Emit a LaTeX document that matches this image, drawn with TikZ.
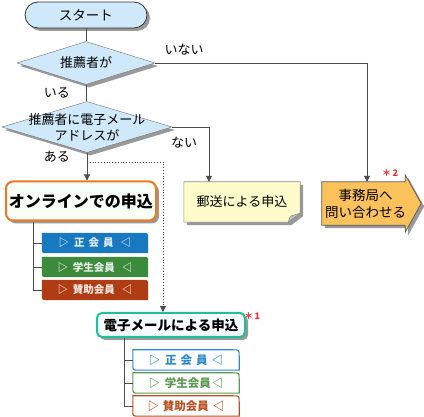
\documentclass[tikz,border=0pt]{standalone}
\usepackage{fontspec}
\setmainfont{Noto Sans CJK JP}
\usetikzlibrary{shapes.geometric,shadows,arrows.meta,backgrounds}
\definecolor{lb}{HTML}{CFE9FA}
\definecolor{orng}{HTML}{F07820}
\definecolor{teal2}{HTML}{20BE9A}
\definecolor{cblue}{HTML}{1878C0}
\definecolor{cgreen}{HTML}{3C8A3C}
\definecolor{cred}{HTML}{B03C14}
\definecolor{eblue}{HTML}{2A8AD0}
\definecolor{egreen}{HTML}{5A9A50}
\definecolor{ered}{HTML}{B85020}
\definecolor{yel}{HTML}{FFFCCC}
\definecolor{jimuf}{HTML}{FBC15A}
\definecolor{star}{HTML}{F03030}
\newcommand\tabpath[2]{%
 \path[#2] (#1.north west) -- ([xshift=-6pt]#1.north east) .. controls (#1.north east) .. ([yshift=-6pt]#1.north east) -- (#1.south east) -- ([xshift=6pt]#1.south west) .. controls (#1.south west) .. ([yshift=6pt]#1.south west) -- cycle;}
\begin{document}
\begin{tikzpicture}[x=1pt,y=-1pt,font=\fontsize{13}{15}\selectfont,
 line/.style={draw=black!70,line width=0.8pt},
 arr/.style={line,-{Triangle[length=6pt,width=6pt]}},
 shad/.style={drop shadow={shadow xshift=3pt,shadow yshift=-3pt,fill=black!40,opacity=1}},
 dia/.style={diamond,draw=black!55,fill=lb,inner sep=0pt,shad},
 sub/.style={minimum width=106pt,minimum height=20pt,inner sep=0pt,font=\bfseries\fontsize{10.5}{11}\selectfont},
 esub/.style={minimum width=106pt,minimum height=20pt,inner sep=0pt,font=\bfseries\fontsize{11.5}{12}\selectfont},
 lbl/.style={font=\fontsize{13}{15}\selectfont,inner sep=0pt}]
\useasboundingbox (0,0) rectangle (424,417);
% start
\node[draw=black!80,line width=0.8pt,fill=lb,rounded corners=13pt,minimum width=122pt,minimum height=26pt,inner sep=0pt,shad,font=\fontsize{13.5}{15}\selectfont] (start) at (86,15) {スタート};
% decisions
\node[dia,minimum width=138pt,minimum height=43pt] (d1) at (86,63) {};
\node[lbl] (d1t) at (d1) {推薦者が};
\node[dia,minimum width=170pt,minimum height=51pt] (d2) at (87,127) {};
\node[lbl,align=center,font=\fontsize{13}{16}\selectfont] (d2t) at (d2) {推薦者に電子メール\\アドレスが};
% labels
\node[lbl] (lno1) at (184,50) {いない};
\node[lbl] (lyes1) at (57,93) {いる};
\node[lbl] (lno2) at (184,143) {ない};
\node[lbl] (lyes2) at (57,157) {ある};
% online
\node[draw=orng,line width=2pt,fill=green!3!white,rounded corners=7pt,minimum width=150pt,minimum height=39pt,inner sep=0pt,shad,font=\bfseries\fontsize{16}{18}\selectfont] (online) at (81,201) {オンラインでの申込};
\node[sub,text=cblue!12!white] (b1) at (95,243) {▷\hspace{5pt}正\hspace{4pt}会\hspace{4pt}員\hspace{7pt}◁};
\node[sub,text=cgreen!12!white] (b2) at (95,267) {▷\hspace{5pt}学生会員\hspace{7pt}◁};
\node[sub,text=cred!12!white] (b3) at (95,290) {▷\hspace{5pt}賛助会員\hspace{7pt}◁};
% email
\node[draw=teal2,line width=2pt,fill=teal2!4!white,rounded corners=5pt,minimum width=148pt,minimum height=24pt,inner sep=0pt,shad,font=\bfseries\fontsize{13.5}{15}\selectfont] (email) at (171,325) {電子メールによる申込};
\node[font=\bfseries\fontsize{9}{10}\selectfont,text=star,inner sep=0pt] (s1) at (252,316) {＊\,1};
\node[esub,text=eblue] (e1) at (186,360) {▷\hspace{5pt}正\hspace{4pt}会\hspace{4pt}員\hspace{4pt}◁};
\node[esub,text=egreen] (e2) at (186,383) {▷\hspace{5pt}学生会員\hspace{1pt}◁};
\node[esub,text=ered] (e3) at (186,406) {▷\hspace{4pt}賛助会員\hspace{4pt}◁};
% yubin
\node[minimum width=116pt,minimum height=40pt,inner sep=0pt] (yubin) at (242,202) {};
\path[fill=yel,draw=black!45,line width=0.6pt,shad] (yubin.north west) -- (yubin.north east) -- ([yshift=9pt]yubin.south east) -- ([xshift=-12pt]yubin.south east) -- (yubin.south west) -- cycle;
\path[fill=black!25,draw=black!45,line width=0.5pt] ([yshift=9pt]yubin.south east) -- ([xshift=-12pt]yubin.south east) -- ([xshift=-10pt,yshift=6pt]yubin.south east) -- cycle;
\node[lbl] (yubint) at (yubin) {郵送による申込};
% jimu
\node[minimum width=83pt,minimum height=43pt,inner sep=0pt] (jimu) at (363.5,203.5) {};
\path[fill=jimuf,draw=black!65,line width=0.7pt,shad] (jimu.north west) -- (jimu.north east) -- ([yshift=7pt]jimu.north east) -- ([xshift=16pt]jimu.east) -- ([yshift=-7pt]jimu.south east) -- (jimu.south east) -- (jimu.south west) -- cycle;
\node[lbl,align=center,font=\fontsize{13.5}{17}\selectfont] (jimut) at ([xshift=2pt]jimu) {事務局へ\\問い合わせる};
\node[font=\bfseries\fontsize{9}{10}\selectfont,text=star,inner sep=0pt] (s2) at (390,173) {＊\,2};
% sub box shapes
\begin{scope}[on background layer]
\tabpath{b1}{fill=cblue}
\tabpath{b2}{fill=cgreen}
\tabpath{b3}{fill=cred}
\tabpath{e1}{fill=white,draw=eblue,line width=1.1pt}
\tabpath{e2}{fill=white,draw=egreen,line width=1.1pt}
\tabpath{e3}{fill=white,draw=ered,line width=1.1pt}
\end{scope}
% connectors
\draw[line] (start) -- (d1);
\draw[line] (d1) -- (d2);
\draw[arr] (d1.east) -| ([xshift=3.5pt]jimu.north);
\draw[arr] (d2.east) -| ([xshift=-33pt]yubin.north);
\draw[arr] (d2.south) -- (d2.south |- online.north);
\coordinate (dot) at (87,162);
\draw[draw=black!70,line width=0.8pt,dotted,-{Triangle[length=6pt,width=6pt]}] (dot) -| ([xshift=-8pt]email.north);
% trees
\coordinate (t1) at (33,222);
\draw[line] (t1) |- (b3.west);
\draw[line] (t1 |- b1.west) -- (b1.west);
\draw[line] (t1 |- b2.west) -- (b2.west);
\coordinate (t2) at (124,338);
\draw[line] (t2) |- (e3.west);
\draw[line] (t2 |- e1.west) -- (e1.west);
\draw[line] (t2 |- e2.west) -- (e2.west);
\end{tikzpicture}
\end{document}
